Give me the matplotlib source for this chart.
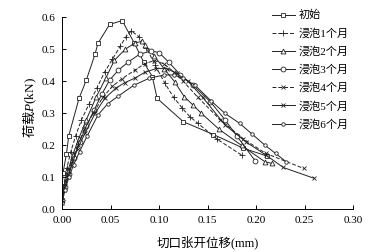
import matplotlib
matplotlib.use('Agg')
import matplotlib.pyplot as plt

plt.rcParams['font.family'] = ['Liberation Serif', 'Noto Sans CJK SC']
plt.rcParams['mathtext.fontset'] = 'custom'
plt.rcParams['mathtext.it'] = 'Liberation Serif:italic'
plt.rcParams['mathtext.rm'] = 'Liberation Serif'

labels = ['初始', '浸泡1个月', '浸泡2个月', '浸泡3个月', '浸泡4个月', '浸泡5个月', '浸泡6个月']

# crack opening displacement (mm) / load (kN)
x0 = [0, 0.001, 0.0045, 0.0069, 0.0175, 0.025, 0.034, 0.037, 0.049, 0.062, 0.0746, 0.084, 0.093, 0.098, 0.125, 0.156, 0.187, 0.211]
y0 = [0.06, 0.114, 0.173, 0.230, 0.347, 0.404, 0.485, 0.519, 0.578, 0.590, 0.519, 0.461, 0.415, 0.347, 0.274, 0.234, 0.191, 0.167]

x1 = [0, 0.002, 0.005, 0.009, 0.014, 0.02, 0.028, 0.036, 0.044, 0.052, 0.06, 0.066, 0.0715, 0.079, 0.087, 0.096, 0.106, 0.115, 0.124, 0.132, 0.140, 0.160, 0.185]
y1 = [0.03, 0.08, 0.13, 0.18, 0.23, 0.28, 0.33, 0.38, 0.43, 0.47, 0.51, 0.54, 0.558, 0.54, 0.505, 0.45, 0.394, 0.35, 0.316, 0.289, 0.269, 0.219, 0.170]

x2 = [0, 0.002, 0.006, 0.011, 0.017, 0.025, 0.035, 0.045, 0.054, 0.065, 0.075, 0.082, 0.085, 0.095, 0.105, 0.116, 0.126, 0.135, 0.143, 0.162, 0.185, 0.209, 0.216]
y2 = [0.03, 0.07, 0.12, 0.17, 0.22, 0.28, 0.35, 0.41, 0.466, 0.50, 0.52, 0.525, 0.514, 0.48, 0.44, 0.399, 0.352, 0.326, 0.302, 0.25, 0.20, 0.149, 0.144]

x3 = [0, 0.003, 0.007, 0.012, 0.018, 0.025, 0.033, 0.041, 0.049, 0.058, 0.068, 0.08, 0.092, 0.10, 0.11, 0.122, 0.135, 0.153, 0.168, 0.18, 0.199]
y3 = [0.03, 0.07, 0.11, 0.16, 0.21, 0.26, 0.31, 0.36, 0.404, 0.435, 0.46, 0.485, 0.495, 0.49, 0.46, 0.42, 0.388, 0.336, 0.28, 0.23, 0.152]

x4 = [0, 0.002, 0.006, 0.010, 0.016, 0.023, 0.032, 0.042, 0.052, 0.062, 0.075, 0.085, 0.095, 0.105, 0.115, 0.125, 0.14, 0.163, 0.187, 0.21, 0.249]
y4 = [0.03, 0.07, 0.11, 0.15, 0.20, 0.25, 0.30, 0.35, 0.385, 0.409, 0.435, 0.455, 0.465, 0.455, 0.43, 0.40, 0.35, 0.28, 0.22, 0.175, 0.128]

x5 = [0, 0.002, 0.006, 0.010, 0.016, 0.024, 0.034, 0.044, 0.056, 0.0646, 0.075, 0.085, 0.097, 0.108, 0.118, 0.13, 0.145, 0.168, 0.19, 0.21, 0.228, 0.26]
y5 = [0.02, 0.06, 0.10, 0.14, 0.19, 0.24, 0.30, 0.347, 0.38, 0.396, 0.41, 0.428, 0.44, 0.44, 0.425, 0.40, 0.35, 0.264, 0.21, 0.17, 0.131, 0.097]

x6 = [0, 0.003, 0.007, 0.012, 0.018, 0.026, 0.037, 0.047, 0.058, 0.074, 0.09, 0.105, 0.115, 0.125, 0.137, 0.154, 0.168, 0.183, 0.196, 0.209, 0.22, 0.231]
y6 = [0.02, 0.06, 0.10, 0.14, 0.18, 0.23, 0.295, 0.33, 0.354, 0.388, 0.41, 0.42, 0.42, 0.41, 0.388, 0.338, 0.30, 0.269, 0.235, 0.201, 0.175, 0.149]

xs = [x0, x1, x2, x3, x4, x5, x6]
ys = [y0, y1, y2, y3, y4, y5, y6]
markers = ['s', '+', '^', 'o', 'x', 'x', 'o']
styles = ['-', (0, (4, 2)), '-', '-', (0, (4, 2)), '-', '-']
msizes = [3.5, 4, 3.5, 3.5, 3.5, 3.5, 2.5]

fig = plt.figure(figsize=(3.83, 2.52), dpi=100)
ax = fig.add_axes([0.162, 0.169, 0.760, 0.762])

for x, y, m, ls, ms, lab in zip(xs, ys, markers, styles, msizes, labels):
    ax.plot(x, y, linestyle=ls, marker=m, markersize=ms, color='#222222',
            linewidth=0.7, markerfacecolor='white', markeredgewidth=0.6, label=lab)

ax.set_xlim(0, 0.30)
ax.set_ylim(0, 0.6)
ax.set_xticks([0, 0.05, 0.10, 0.15, 0.20, 0.25, 0.30])
ax.set_xticklabels(['0.00', '0.05', '0.10', '0.15', '0.20', '0.25', '0.30'])
ax.set_yticks([0, 0.1, 0.2, 0.3, 0.4, 0.5, 0.6])
ax.set_yticklabels(['0.0', '0.1', '0.2', '0.3', '0.4', '0.5', '0.6'])
ax.tick_params(direction='in', length=3, width=0.7, labelsize=8, pad=5)
ax.spines['top'].set_visible(False)
ax.spines['right'].set_visible(False)
for s in ['left', 'bottom']:
    ax.spines[s].set_linewidth(0.7)

ax.set_xlabel('切口张开位移(mm)', fontsize=9, labelpad=7)
# CJK font first so the non-math part of the mathtext label gets glyphs
ax.set_ylabel('荷载$P\\mathrm{(kN)}$', fontsize=9.5, labelpad=3,
              family=['Noto Sans CJK SC'])
ax.yaxis.set_label_coords(-0.08, 0.53)

ax.legend(loc='upper left', bbox_to_anchor=(0.685, 1.0), bbox_transform=fig.transFigure,
          frameon=False, fontsize=8, handlelength=2.0, labelspacing=0.68, handletextpad=0.4)

fig.savefig('out.png', dpi=100)
